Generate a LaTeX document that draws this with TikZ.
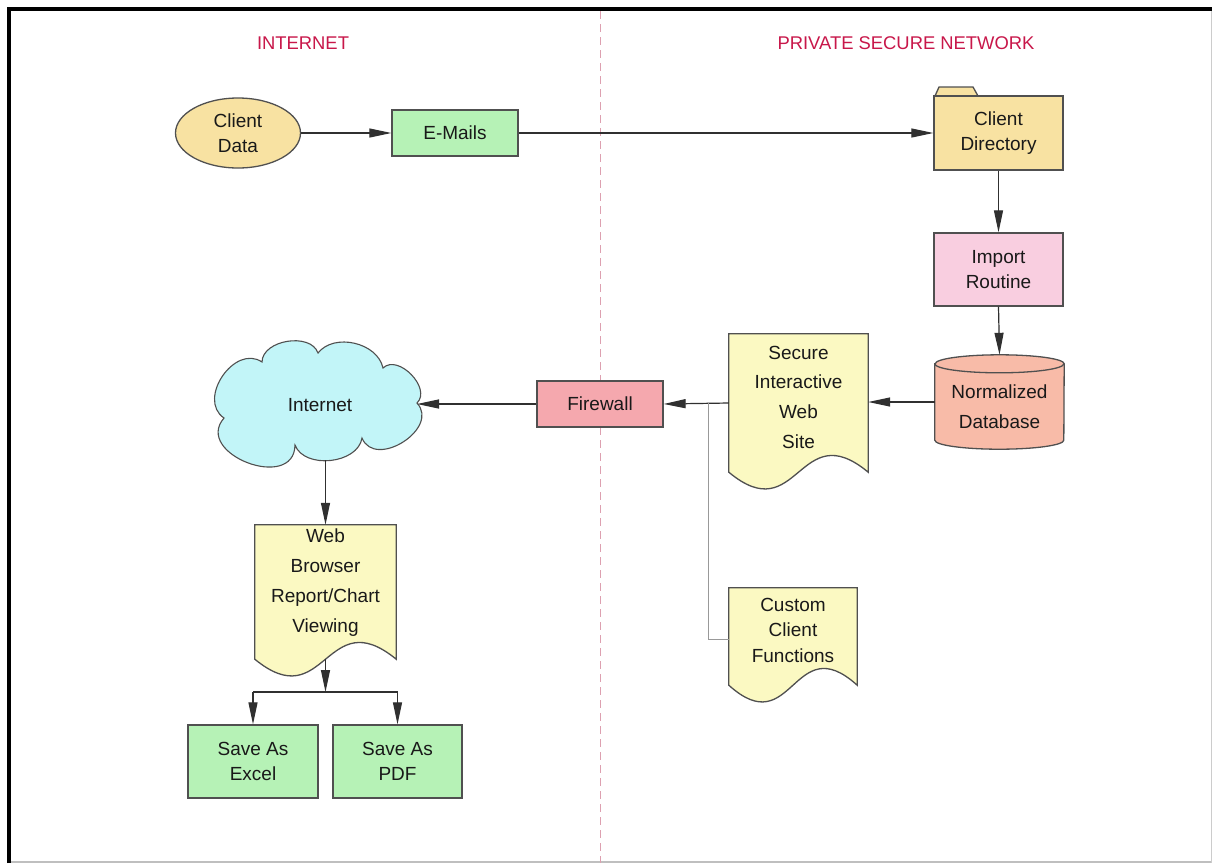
\documentclass[tikz,border=0pt]{standalone}
\usepackage{fontspec}
\setmainfont{Liberation Sans}
\usetikzlibrary{arrows.meta,shapes.geometric,calc}
\definecolor{titlered}{HTML}{C8174A}
\definecolor{tanfill}{HTML}{F8E2A2}
\definecolor{greenfill}{HTML}{B6F2B6}
\definecolor{pinkfill}{HTML}{F9CEE0}
\definecolor{firefill}{HTML}{F5A8AE}
\definecolor{dbfill}{HTML}{F8BBA8}
\definecolor{docfill}{HTML}{FBF9C2}
\definecolor{cloudfill}{HTML}{C2F5F8}
\definecolor{edgecol}{HTML}{505050}
\definecolor{wirecol}{HTML}{303030}
\definecolor{dashpink}{HTML}{DDA0B0}
\tikzset{
 txt/.style={font=\fontsize{19}{25}\selectfont, align=center, text=black!90, inner sep=0pt},
 box/.style={txt, draw=edgecol, line width=1.3pt, rectangle},
 shapeline/.style={draw=edgecol, line width=1.3pt},
 hold/.style={draw=none, inner sep=0pt, rectangle},
 arr/.style={draw=wirecol, line width=1.2pt, -{Triangle[length=22pt,width=9pt]}},
 plainwire/.style={draw=wirecol, line width=1.2pt},
 greyline/.style={draw=black!40, line width=1pt},
 titletext/.style={font=\fontsize{18.4}{22}\selectfont, text=titlered, inner sep=0pt},
}
\newcommand\docpath[2]{\draw[shapeline, fill=#2] (#1.north west) -- (#1.north east) -- (#1.south east) .. controls ($(#1.south)+(0,-58)$) and ($(#1.south)+(0,58)$) .. (#1.south west) -- cycle;}
\begin{document}
\begin{tikzpicture}[x=1pt,y=-1pt]
\useasboundingbox (0,0) rectangle (1212,863);
\fill[white] (0,0) rectangle (1212,863);
% frame
\draw[black!25, line width=2pt] (9,861.5) -- (1212,861.5);
\draw[black!20, line width=1pt] (1211.5,9) -- (1211.5,863);
\draw[black, line width=4pt] (9,863) -- (9,9) -- (1212,9);
% divider
\draw[dashpink, line width=1pt, dash pattern=on 8pt off 5pt] (600,11) -- (600,863);
% titles
\node[titletext] (tleft) at (303,43) {INTERNET};
\node[titletext] (tright) at (906,43) {PRIVATE SECURE NETWORK};
% top row
\node[txt, ellipse, draw=edgecol, line width=1.3pt, fill=tanfill, minimum width=125pt, minimum height=70pt] (clientdata) at (238,133) {Client\\Data};
\node[box, fill=greenfill, minimum width=126pt, minimum height=46pt] (emails) at (455,133) {E-Mails};
\draw[shapeline, fill=tanfill] (935,96) -- ++(4,-9) -- ++(34,0) -- ++(5,9) -- cycle;
\node[box, fill=tanfill, minimum width=129pt, minimum height=74pt] (clientdir) at (998.5,133) {Client\\Directory};
\node[box, fill=pinkfill, minimum width=129pt, minimum height=73pt] (import) at (998.5,269.5) {Import\\Routine};
% database cylinder
\node[hold, minimum width=129pt, minimum height=94pt] (db) at (999.5,402) {};
\draw[shapeline, fill=dbfill] ([yshift=-9pt]db.north west) -- ([yshift=9pt]db.south west) arc[start angle=180, end angle=360, x radius=64.5pt, y radius=9pt] -- ([yshift=-9pt]db.north east) arc[start angle=0, end angle=180, x radius=64.5pt, y radius=9pt] -- cycle;
\draw[shapeline] ([yshift=-9pt]db.north west) arc[start angle=180, end angle=360, x radius=64.5pt, y radius=9pt];
\node[txt, font=\fontsize{19}{30}\selectfont] (dblbl) at (999.5,407) {Normalized\\Database};
% secure web site document
\node[hold, minimum width=139pt, minimum height=138pt] (secure) at (798.5,403) {};
\docpath{secure}{docfill}
\node[txt, font=\fontsize{19}{29.7}\selectfont] (securelbl) at (798.5,397) {Secure\\Interactive\\Web\\Site};
% custom client functions
\node[hold, minimum width=128pt, minimum height=97pt] (custom) at (793,636.5) {};
\docpath{custom}{docfill}
\node[txt, font=\fontsize{19}{25.5}\selectfont] (customlbl) at (793,630) {Custom\\Client\\Functions};
% firewall
\node[box, fill=firefill, minimum width=126pt, minimum height=46pt] (firewall) at (600,404) {Firewall};
% cloud
\node[hold, minimum width=205pt, minimum height=110pt] (cloud) at (320,405) {};
\coordinate (cA) at (224,418);
\coordinate (cB) at (262,362);
\coordinate (cC) at (318,353);
\coordinate (cD) at (383,368);
\coordinate (cE) at (417,403);
\coordinate (cF) at (362,438);
\coordinate (cG) at (295,445);
\draw[draw=edgecol, line width=1.1pt, fill=cloudfill]
  (cA) to[bend left=90, looseness=1.25] (cB)
  to[bend left=80] (cC)
  to[bend left=65] (cD)
  to[bend left=90, looseness=1.1] (cE)
  to[bend left=100, looseness=1.35] (cF)
  to[bend left=75] (cG)
  to[bend left=110, looseness=1.6] (cA) -- cycle;
\node[txt] (cloudlbl) at (320,405) {Internet};
% web browser document
\node[hold, minimum width=141pt, minimum height=134pt] (web) at (325.5,592) {};
\docpath{web}{docfill}
\node[txt, font=\fontsize{19}{30}\selectfont] (weblbl) at (325.5,583) {Web\\Browser\\Report/Chart\\Viewing};
% save boxes
\node[box, fill=greenfill, minimum width=130pt, minimum height=73pt] (excel) at (253,761.5) {Save As\\Excel};
\node[box, fill=greenfill, minimum width=129pt, minimum height=73pt] (pdf) at (397.5,761.5) {Save As\\PDF};
% connectors
\draw[arr] (clientdata.east) -- (emails.west);
\draw[arr] (emails.east) -- (emails.east -| clientdir.west);
\draw[arr] (clientdir.south) -- (import.north);
\draw[arr] (import.south) -- (db.north);
\draw[arr] (db.west) -- (db.west -| secure.east);
\draw[arr] (secure.west) -- (firewall.east);
\coordinate (split) at (708,403);
\draw[greyline] (split) |- ([yshift=-3pt]custom.west);
\draw[arr] (firewall.west) -- (firewall.west -| cE);
\draw[arr] (web.north |- cloud.south) -- (web.north);
\coordinate (branch) at (325.5,692);
\draw[arr] (web.south) -- (branch);
\draw[plainwire] (excel.north |- branch) -- (pdf.north |- branch);
\draw[arr] (excel.north |- branch) -- (excel.north);
\draw[arr] (pdf.north |- branch) -- (pdf.north);
\end{tikzpicture}
\end{document}
